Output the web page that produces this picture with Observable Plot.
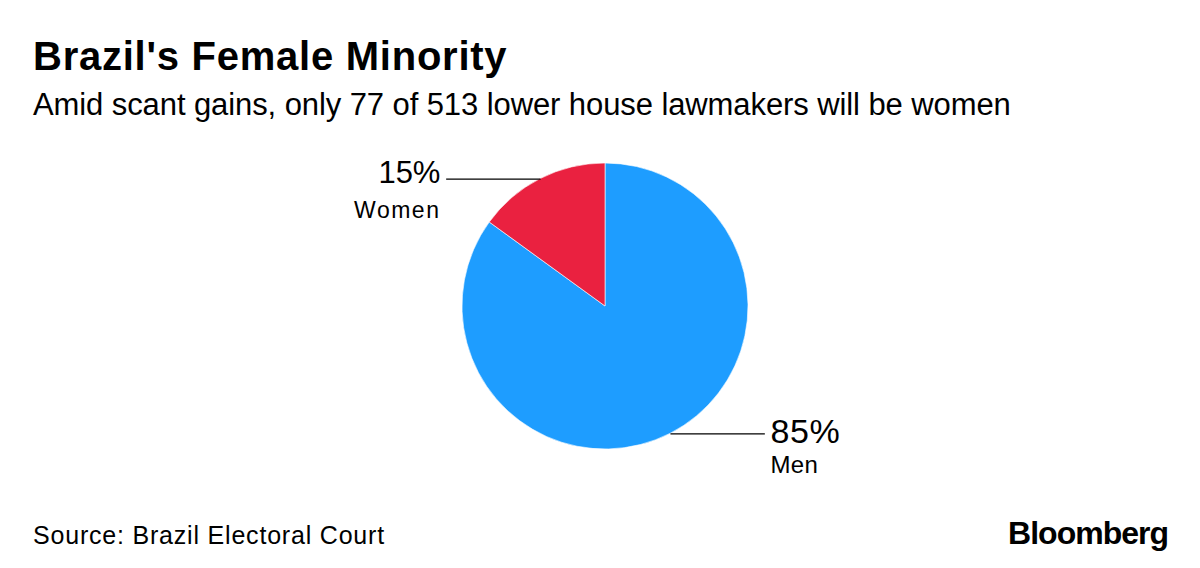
<!DOCTYPE html>
<html>
<head>
<meta charset="utf-8">
<script src="https://cdn.jsdelivr.net/npm/d3@7"></script>
<script src="https://cdn.jsdelivr.net/npm/@observablehq/plot@0.6"></script>
<style>
  html, body { margin: 0; padding: 0; background: #fff; }
  body { width: 1200px; height: 568px; position: relative; overflow: hidden; font-family: "Liberation Sans", Arial, Helvetica, sans-serif; color: #000; }
  .t { position: absolute; white-space: nowrap; line-height: 1; }
  #title { left: 33px; top: 36px; font-size: 40px; font-weight: bold; letter-spacing: 0.75px; }
  #subtitle { left: 33px; top: 89px; font-size: 31px; letter-spacing: -0.09px; }
  #source { left: 33px; top: 523px; font-size: 25px; letter-spacing: 0.8px; }
  #logo { right: 32px; top: 517px; font-size: 32px; font-weight: bold; letter-spacing: -1px; }
  #chart { position: absolute; left: 0; top: 0; }
</style>
</head>
<body>
<div id="chart"></div>
<div class="t" id="title">Brazil's Female Minority</div>
<div class="t" id="subtitle">Amid scant gains, only 77 of 513 lower house lawmakers will be women</div>
<div class="t" id="source">Source: Brazil Electoral Court</div>
<div class="t" id="logo">Bloomberg</div>
<script>
// ---- data ----
const categories = ["Men", "Women"];
const seats = [436, 77];
const colors = ["#1e9dff", "#ea2140"];

// ---- derived ----
const total = d3.sum(seats);
const arcs = d3.pie().sort(null)(seats);
const fmt = d3.format(".0%");
const rows = categories.map((c, i) => {
  const a = (arcs[i].startAngle + arcs[i].endAngle) / 2;
  const ex = Math.sin(a), ey = Math.cos(a);
  const side = ex >= 0 ? 1 : -1;
  return {
    category: c, value: seats[i], color: colors[i],
    start: arcs[i].startAngle, end: arcs[i].endAngle,
    pct: fmt(seats[i] / total),
    ex, ey, side,
    lx: ex + side * 0.66,
    tx: ex + side * 0.70
  };
});
const right = rows.filter(d => d.side > 0);
const left = rows.filter(d => d.side < 0);

const slices = (index, scales, values, dimensions) => {
  const sx = scales.x, sy = scales.y;
  const cx = sx(0), cy = sy(0);
  const r = sx(1) - sx(0);
  const g = d3.create("svg:g").attr("transform", `translate(${cx},${cy})`);
  const arc = d3.arc().innerRadius(0).outerRadius(r);
  g.selectAll("path").data(rows).join("path")
    .attr("d", d => arc({startAngle: d.start, endAngle: d.end}))
    .attr("fill", d => d.color)
    .attr("stroke", "#fff")
    .attr("stroke-width", 0.6);
  return g.node();
};

const font = "Liberation Sans, Arial, Helvetica, sans-serif";
const chart = Plot.plot({
  width: 1200,
  height: 568,
  margin: 0,
  x: {domain: [-1, 1], range: [462, 748], axis: null},
  y: {domain: [-1, 1], range: [449, 163], axis: null},
  style: {fontFamily: font, background: "transparent", overflow: "visible"},
  marks: [
    slices,
    Plot.link(rows, {x1: "ex", y1: "ey", x2: "lx", y2: "ey", stroke: "#000", strokeWidth: 1.4}),
    Plot.text(right, {x: "tx", y: "ey", text: "pct", textAnchor: "start",
      fontSize: 34, fill: "#000", dy: 9, lineAnchor: "bottom", fontFamily: font}),
    Plot.text(right, {x: "tx", y: "ey", text: "category", textAnchor: "start",
      fontSize: 24, fill: "#000", dy: 39.5, lineAnchor: "bottom", fontFamily: font}),
    Plot.text(left, {x: "tx", y: "ey", text: "pct", textAnchor: "end",
      fontSize: 31, fill: "#000", dy: 4, lineAnchor: "bottom", fontFamily: font}),
    Plot.text(left, {x: "tx", y: "ey", text: "category", textAnchor: "end",
      fontSize: 23, fill: "#000", dy: 38.5, lineAnchor: "bottom", fontFamily: font})
  ]
});
// small letter-spacing tweaks to match the original typeface widths
const spacing = {"Women": 1.5, "Men": 0.3, "85%": 0.6};
d3.select(chart).selectAll("text").each(function () {
  const ls = spacing[this.textContent];
  if (ls) this.setAttribute("letter-spacing", ls);
});
document.getElementById("chart").appendChild(chart);
</script>
</body>
</html>
